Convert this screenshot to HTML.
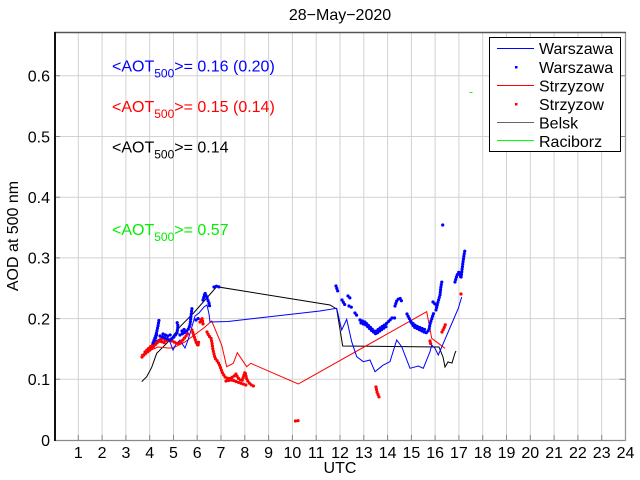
<!DOCTYPE html>
<html>
<head>
<meta charset="utf-8">
<style>
html,body{margin:0;padding:0;background:#fff;}
svg{display:block;}
text{font-family:"Liberation Sans",Arial,sans-serif;}
</style>
</head>
<body>
<svg width="640" height="480" viewBox="0 0 640 480" xmlns="http://www.w3.org/2000/svg">
<rect x="0" y="0" width="640" height="480" fill="#fff"/>
<!-- grid -->
<g stroke="#d2d2d2" stroke-width="1" fill="none">
<path d="M78.3,33V440M102.1,33V440M125.9,33V440M149.7,33V440M173.5,33V440M197.2,33V440M221,33V440M244.8,33V440M268.6,33V440M292.4,33V440M316.2,33V440M340,33V440M363.8,33V440M387.6,33V440M411.4,33V440M435.1,33V440M458.9,33V440M482.7,33V440M506.5,33V440M530.3,33V440M554.1,33V440M577.9,33V440M601.7,33V440"/>
<path d="M55,379.3H625.5M55,318.6H625.5M55,257.9H625.5M55,197.2H625.5M55,136.5H625.5M55,75.8H625.5"/>
</g>
<!-- ticks -->
<g stroke="#888" stroke-width="1" fill="none">
<path d="M78.3,440v-5M102.1,440v-5M125.9,440v-5M149.7,440v-5M173.5,440v-5M197.2,440v-5M221,440v-5M244.8,440v-5M268.6,440v-5M292.4,440v-5M316.2,440v-5M340,440v-5M363.8,440v-5M387.6,440v-5M411.4,440v-5M435.1,440v-5M458.9,440v-5M482.7,440v-5M506.5,440v-5M530.3,440v-5M554.1,440v-5M577.9,440v-5M601.7,440v-5"/>
<path d="M55,379.3h5M55,318.6h5M55,257.9h5M55,197.2h5M55,136.5h5M55,75.8h5"/>
<path d="M625.5,379.3h-6M625.5,318.6h-6M625.5,257.9h-6M625.5,197.2h-6M625.5,136.5h-6M625.5,75.8h-6"/>
</g>
<!-- axes frame -->
<line x1="55" y1="440.5" x2="625.5" y2="440.5" stroke="#8a8a8a" stroke-width="1.3"/>
<line x1="625.5" y1="32" x2="625.5" y2="441" stroke="#999" stroke-width="1.3"/>
<line x1="54" y1="32.5" x2="626" y2="32.5" stroke="#555" stroke-width="1.5"/>
<line x1="55" y1="32" x2="55" y2="441" stroke="#111" stroke-width="2"/>

<!-- green raciborz -->
<path d="M469.5,92.5H472.5" stroke="#00ff00" stroke-width="1"/>

<!-- Black Belsk line -->
<path d="M141.7,381.7 L146.7,376.7 L151.7,367.3 L156.7,353.3 L163.3,346.7 L170,340 L180,326.7 L193.3,313.3 L205,300 L216.7,286.7 L330,305 L336.7,309 L342.7,346 L439,347 L443,357 L445,367 L448,362 L452,363 L455,353 L456,351" fill="none" stroke="#000" stroke-width="1"/>

<!-- Red Strzyzow line -->
<path d="M141,355 L151,350 L158,347 L168,348 L173,348 L185,342 L205,327 L211.7,321 L221.7,345 L226.7,366.7 L233.3,363.3 L237.3,352.7 L246.7,366.7 L250.7,363.3 L298.3,384 L426.7,311.7 L431.7,338.3 L445,348.3" fill="none" stroke="#ff0000" stroke-width="1"/>

<!-- Blue Warszawa line -->
<path d="M156,341 L161,338 L166,339 L170,342 L173,350 L176,344 L180,340 L183,345 L185,348 L188,340 L191,330 L195,316 L199,313 L204,307 L207,305 L209,314 L210,322 L228,321.5 L320,311 L336.7,308.3 L341.7,330 L346.7,319.3 L351.7,341.7 L356.7,356.7 L363.3,361.7 L370,360 L375,371.7 L383.3,365 L390,361.7 L396.7,340 L401.7,346.7 L410,368.3 L418.3,366 L423.3,368.3 L430,351.7 L431.7,345 L435,348.3 L438.3,355 L443.3,343.3 L453.3,320 L458.3,308.3 L461.7,297" fill="none" stroke="#0000ff" stroke-width="1"/>

<!-- Red dots -->
<g fill="none" stroke="#ff0000" stroke-width="3.2" stroke-linecap="round" stroke-dasharray="0 2.6">
<path d="M142,357 L146,353 L150,350 L154,346 L157,343 L160,340 L163,338 L166,341 L170,340 L174,342 L178,344 L182,341 L186,336 L189,332"/>
<path d="M145,352 L150,347 L155,343 L160,341 L165,343"/>
<path d="M192,330 L194,336 L196,342 L198,346 L199,340"/>
<path d="M200,322 L202,318 L203,324"/>
<path d="M207,332 L209,336 L211,338 L212,343 L213,350 L215,358 L218,362 L220,366 L222,372 L225,377 L229,379 L233,377 L236,374 L238,378 L242,381 L245,372 L247,380 L250,384 L253,386 L256,386"/>
<path d="M226,381 L232,380 L240,383 L246,385"/>
<path d="M295.5,421 L299.5,420.5"/>
<path d="M376,387 L377,392 L379,397"/>
<path d="M430,341 L431,345"/>
<path d="M442,332 L444,328 L446,323"/>
<path d="M461,294 L462,296"/>
</g>

<!-- Blue dots -->
<g fill="none" stroke="#0000ff" stroke-width="3.2" stroke-linecap="round" stroke-dasharray="0 2.6">
<path d="M153,343 L156,335 L158,326 L159,320"/>
<path d="M155,340 L157,333"/>
<path d="M160,336 L165,338 L170,340 L174,337 L177,333 L178,326 L177,322"/>
<path d="M163,334 L168,336 L172,334"/>
<path d="M180,335 L184,333 L188,330 L190,325 L191,316 L192,308"/>
<path d="M182,331 L186,328"/>
<path d="M196,320 L199,318"/>
<path d="M203,300 L205,293 L207,298 L209,303 L210,308"/>
<path d="M214,287 L217,286 L219,287"/>
<path d="M336,286 L338,292"/>
<path d="M342,300 L345,305"/>
<path d="M348,296 L351,299"/>
<path d="M349,306 L353,308"/>
<path d="M355,313 L358,317"/>
<path d="M360,320 L365,322 L370,327 L375,332 L380,328 L386,324 L392,318 L395,318"/>
<path d="M361,323 L366,325 L371,330 L376,334 L381,330 L387,326"/>
<path d="M395,306 L397,300 L400,298 L402,302"/>
<path d="M407,314 L410,320 L414,327 L418,329 L422,331 L426,333 L429,330 L430,324 L432,318 L434,312"/>
<path d="M411,322 L416,326 L421,328 L426,330"/>
<path d="M436,310 L438,302 L440,295 L441,286 L442,281"/>
<path d="M433,302 L437,306"/>
<path d="M442.7,225 L442.8,225.2"/>
<path d="M455,282 L457,275 L459,272 L461,278 L462,270 L463,262 L464,255 L465,250"/>
</g>

<!-- Annotations -->
<text x="112" y="71.5" font-size="16" fill="#0000ff">&lt;AOT<tspan font-size="12" dy="6">500</tspan><tspan dy="-6">&gt;= 0.16 (0.20)</tspan></text>
<text x="112" y="112" font-size="16" fill="#ff0000">&lt;AOT<tspan font-size="12" dy="6">500</tspan><tspan dy="-6">&gt;= 0.15 (0.14)</tspan></text>
<text x="112" y="152.5" font-size="16" fill="#000">&lt;AOT<tspan font-size="12" dy="6">500</tspan><tspan dy="-6">&gt;= 0.14</tspan></text>
<text x="112" y="235" font-size="16" fill="#00ee00">&lt;AOT<tspan font-size="12" dy="6">500</tspan><tspan dy="-6">&gt;= 0.57</tspan></text>

<!-- Legend -->
<rect x="489.5" y="37.5" width="131" height="114" fill="#fff" stroke="#000" stroke-width="1"/>
<line x1="497" y1="48.5" x2="534" y2="48.5" stroke="#0000ff" stroke-width="1"/>
<rect x="515" y="66" width="2.5" height="2.5" fill="#0000ff"/>
<line x1="497" y1="85.5" x2="534" y2="85.5" stroke="#ff0000" stroke-width="1"/>
<rect x="515" y="103" width="2.5" height="2.5" fill="#ff0000"/>
<line x1="497" y1="122.5" x2="534" y2="122.5" stroke="#666" stroke-width="1"/>
<line x1="497" y1="140.5" x2="534" y2="140.5" stroke="#00ff00" stroke-width="1"/>
<g font-size="16" fill="#000">
<text x="539" y="54">Warszawa</text>
<text x="539" y="73">Warszawa</text>
<text x="539" y="91.5">Strzyzow</text>
<text x="539" y="110">Strzyzow</text>
<text x="539" y="128.5">Belsk</text>
<text x="539" y="147">Raciborz</text>
</g>

<!-- Y tick labels -->
<g font-size="16" fill="#000" text-anchor="end">
<text x="50" y="445.8">0</text>
<text x="50" y="385.1">0.1</text>
<text x="50" y="324.4">0.2</text>
<text x="50" y="263.7">0.3</text>
<text x="50" y="203">0.4</text>
<text x="50" y="142.3">0.5</text>
<text x="50" y="81.6">0.6</text>
</g>
<!-- X tick labels -->
<g font-size="16" fill="#000" text-anchor="middle">
<text x="78.3" y="458">1</text>
<text x="102.1" y="458">2</text>
<text x="125.9" y="458">3</text>
<text x="149.7" y="458">4</text>
<text x="173.5" y="458">5</text>
<text x="197.2" y="458">6</text>
<text x="221" y="458">7</text>
<text x="244.8" y="458">8</text>
<text x="268.6" y="458">9</text>
<text x="292.4" y="458">10</text>
<text x="316.2" y="458">11</text>
<text x="340" y="458">12</text>
<text x="363.8" y="458">13</text>
<text x="387.6" y="458">14</text>
<text x="411.4" y="458">15</text>
<text x="435.1" y="458">16</text>
<text x="458.9" y="458">17</text>
<text x="482.7" y="458">18</text>
<text x="506.5" y="458">19</text>
<text x="530.3" y="458">20</text>
<text x="554.1" y="458">21</text>
<text x="577.9" y="458">22</text>
<text x="601.7" y="458">23</text>
<text x="625.5" y="458">24</text>
</g>
<!-- Axis labels and title -->
<text x="340" y="473" font-size="16" text-anchor="middle" fill="#000">UTC</text>
<text x="0" y="0" font-size="16" text-anchor="middle" fill="#000" transform="translate(18,236) rotate(-90)">AOD at 500 nm</text>
<text x="340" y="20" font-size="16" text-anchor="middle" fill="#000">28−May−2020</text>
</svg>
</body>
</html>
